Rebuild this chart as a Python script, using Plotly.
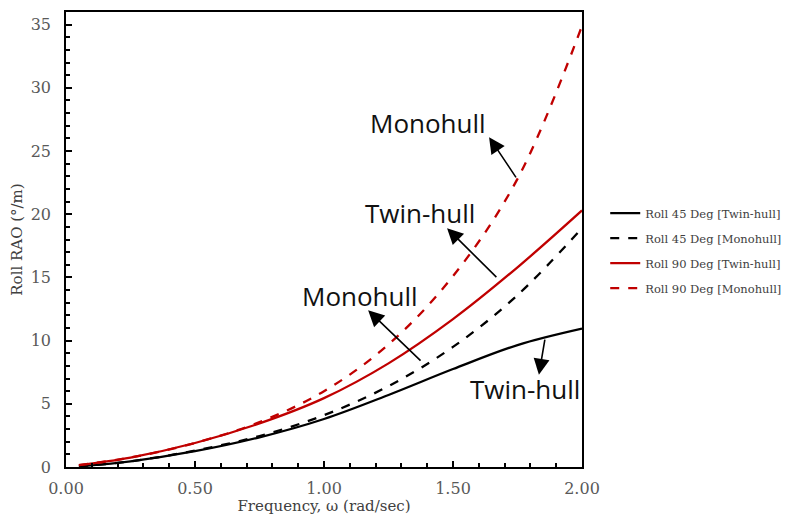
import plotly.graph_objects as go

freq = [0.05, 0.25, 0.50, 0.75, 1.00, 1.25, 1.50, 1.75, 2.00]
roll45_twin = [0.05, 0.45, 1.25, 2.35, 3.80, 5.70, 7.75, 9.65, 10.95]
roll45_mono = [0.05, 0.45, 1.30, 2.45, 4.10, 6.40, 9.50, 13.60, 18.90]
roll90_twin = [0.15, 0.75, 1.90, 3.45, 5.45, 8.20, 11.70, 15.80, 20.30]
roll90_mono = [0.15, 0.75, 1.90, 3.55, 6.00, 9.70, 15.10, 22.80, 34.90]

series_names = ["Roll 45 Deg [Twin-hull]", "Roll 45 Deg [Monohull]",
                "Roll 90 Deg [Twin-hull]", "Roll 90 Deg [Monohull]"]

# label text, label position (x, y); arrow tail (x, y) -> head (x, y)
labels = [
    ("Monohull", 1.403, 27.2),
    ("Twin-hull", 1.372, 20.1),
    ("Monohull", 1.140, 13.5),
    ("Twin-hull", 1.779, 6.2),
]
arrows = [
    (1.748, 22.8, 1.640, 26.1),
    (1.674, 14.9, 1.477, 18.9),
    (1.380, 8.3, 1.171, 12.4),
    (1.857, 10.2, 1.833, 7.3),
]

RED = "#C00000"
serif = "DejaVu Serif"

fig = go.Figure()
styles = [("black", "solid"), ("black", "dash"), (RED, "solid"), (RED, "dash")]
for i, (vals, name) in enumerate(zip([roll45_twin, roll45_mono, roll90_twin, roll90_mono], series_names)):
    c, d = styles[i]
    fig.add_trace(go.Scatter(x=freq, y=vals, mode="lines", name=name,
                             legendgroup=f"g{i}",
                             line=dict(color=c, width=2.3, dash=d, shape="spline", smoothing=1.0)))

annots = []
for t, x, y in labels:
    annots.append(dict(x=x, y=y, xref="x", yref="y", text=t, showarrow=False,
                       font=dict(family="Open Sans", size=26, color="#111111")))
for tx, ty, hx, hy in arrows:
    annots.append(dict(x=hx, y=hy, xref="x", yref="y", ax=tx, ay=ty, axref="x", ayref="y",
                       text="", showarrow=True, arrowhead=2, arrowsize=2.0, arrowwidth=1.6,
                       arrowcolor="black"))

fig.update_layout(
    width=785, height=515,
    margin=dict(l=66, r=203, t=12, b=48, autoexpand=False),
    paper_bgcolor="white", plot_bgcolor="white",
    annotations=annots,
    legend=dict(x=1.045, y=0.59, xanchor="left", yanchor="top",
                font=dict(family=serif, size=11.5, color="#404040"),
                tracegroupgap=6, bgcolor="rgba(0,0,0,0)"),
    xaxis=dict(range=[0, 2], dtick=0.5, tickformat=".2f", ticks="inside", ticklen=6,
               tickwidth=1.5, tickcolor="black",
               showline=True, linecolor="black", linewidth=1.5, mirror=True,
               showgrid=False, zeroline=False,
               minor=dict(dtick=0.1, ticks="inside", ticklen=4, tickcolor="black", showgrid=False),
               tickfont=dict(family=serif, size=16, color="#595959"),
               ticklabelstandoff=6,
               title=dict(text="Frequency, ω (rad/sec)", standoff=6,
                          font=dict(family=serif, size=15, color="#404040"))),
    yaxis=dict(range=[0, 36], dtick=5, ticks="inside", ticklen=6, tickwidth=1.5, tickcolor="black",
               showline=True, linecolor="black", linewidth=1.5, mirror=True,
               showgrid=False, zeroline=False,
               minor=dict(dtick=1, ticks="inside", ticklen=4, tickcolor="black", showgrid=False),
               tickfont=dict(family=serif, size=16, color="#595959"),
               ticklabelstandoff=10,
               title=dict(text="Roll RAO (°/m)", standoff=4,
                          font=dict(family=serif, size=15, color="#404040"))),
)

fig.write_html("out.html")
